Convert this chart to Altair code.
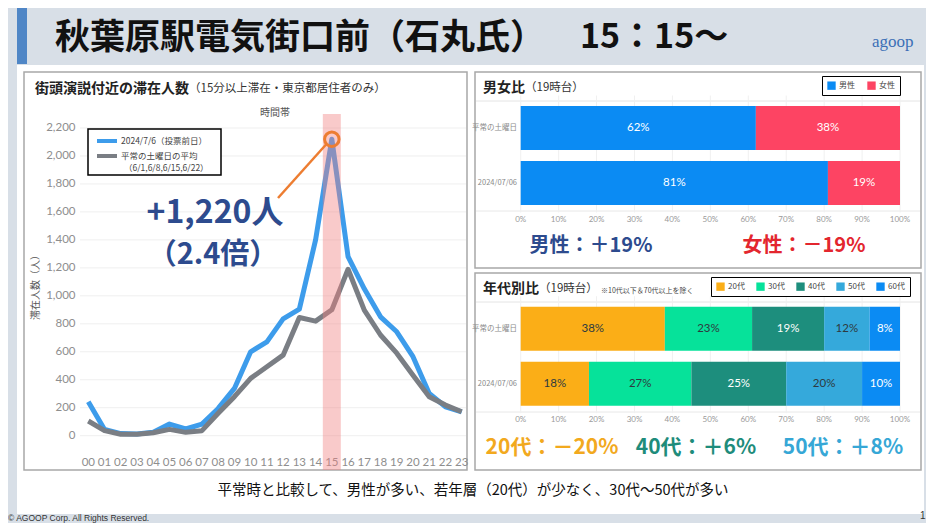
import altair as alt
import pandas as pd

# ---------------- data ----------------
hours = [f"{h:02d}" for h in range(24)]
stay_0706 = [243, 45, 15, 12, 25, 83, 48, 83, 195, 338, 600, 671, 835, 905, 1400, 2120,
             1280, 1050, 850, 743, 565, 302, 207, 171]
stay_avg = [105, 36, 10, 10, 21, 45, 24, 36, 160, 279, 410, 493, 576, 845, 819, 900,
            1190, 898, 720, 590, 433, 278, 219, 171]
series_names = ["2024/7/6（投票前日）", "平常の土曜日の平均"]
highlight_hour = "15"
y_ticks = list(range(0, 2201, 200))

bar_rows = ["平常の土曜日", "2024/07/06"]
gender_cats = ["男性", "女性"]
gender_usual = [62, 38]
gender_0706 = [81, 19]
age_cats = ["20代", "30代", "40代", "50代", "60代"]
age_usual = [38, 23, 19, 12, 8]
age_0706 = [18, 27, 25, 20, 10]
pct_ticks = [i / 10 for i in range(11)]

JP = "Noto Sans CJK JP"
NUM = "Lato"
W, H = 918, 515


def px(v):
    return v - 8


one = alt.InlineData(values=[{"k": 0}])


def txt(x, y, s, size, color="#222222", weight="normal", align="left", font=JP,
        angle=None, baseline="middle"):
    kw = dict(text=s, fontSize=size, color=color, fontWeight=weight, align=align,
              baseline=baseline, font=font)
    if angle is not None:
        kw["angle"] = angle
    return alt.Chart(one).mark_text(**kw).encode(x=alt.value(px(x)), y=alt.value(px(y)))


def box(x1, y1, x2, y2, fill="white", stroke=None, sw=1.0):
    kw = dict(fill=fill)
    if stroke:
        kw.update(stroke=stroke, strokeWidth=sw)
    return alt.Chart(one).mark_rect(**kw).encode(
        x=alt.value(px(x1)), x2=alt.value(px(x2)), y=alt.value(px(y1)), y2=alt.value(px(y2)))


def seg(x1, y1, x2, y2, color, sw):
    return alt.Chart(one).mark_rule(color=color, strokeWidth=sw).encode(
        x=alt.value(px(x1)), y=alt.value(px(y1)), x2=alt.value(px(x2)), y2=alt.value(px(y2)))


# ---------------- line chart ----------------
xs = alt.Scale(type="point", domain=hours, range=[px(88.3), px(461.7)], padding=0)
ys = alt.Scale(domain=[0, 2200], range=[px(435.7), px(128)], nice=False, zero=False)

df_blue = pd.DataFrame({"hour": hours, "value": stay_0706})
df_gray = pd.DataFrame({"hour": hours, "value": stay_avg})
df_grid = pd.DataFrame({"value": y_ticks})
df_hours = pd.DataFrame({"hour": hours})
df_hl = pd.DataFrame({"hour": [highlight_hour],
                      "value": [stay_0706[hours.index(highlight_hour)]]})

grid = alt.Chart(df_grid).mark_rule(color="#EFEFEF", strokeWidth=1).encode(
    y=alt.Y("value:Q", scale=ys, axis=None), x=alt.value(px(80)), x2=alt.value(px(466)))
y_labels = alt.Chart(df_grid).mark_text(align="right", baseline="middle", fontSize=11.5,
                                        font=NUM, color="#8E8E8E").encode(
    y=alt.Y("value:Q", scale=ys, axis=None), x=alt.value(px(75.5)),
    text=alt.Text("value:Q", format=",d"))
x_labels = alt.Chart(df_hours).mark_text(align="center", baseline="middle", fontSize=11.5,
                                         font=NUM, color="#8E8E8E").encode(
    x=alt.X("hour:N", scale=xs, axis=None), y=alt.value(px(462.5)), text="hour:N")
blue = alt.Chart(df_blue).mark_line(color="#3D9CEB", strokeWidth=5, strokeJoin="round").encode(
    x=alt.X("hour:N", scale=xs, axis=None, sort=hours),
    y=alt.Y("value:Q", scale=ys, axis=None))
gray = alt.Chart(df_gray).mark_line(color="#7A7E84", strokeWidth=5, strokeJoin="round").encode(
    x=alt.X("hour:N", scale=xs, axis=None, sort=hours),
    y=alt.Y("value:Q", scale=ys, axis=None))
band = alt.Chart(df_hl).mark_rule(color="#F08080", strokeWidth=18, opacity=0.42).encode(
    x=alt.X("hour:N", scale=xs, axis=None), y=alt.value(px(114)), y2=alt.value(px(470)))
circle = alt.Chart(df_hl).mark_point(shape="circle", filled=False, size=210, color="#ED7D31",
                                     strokeWidth=3, opacity=1).encode(
    x=alt.X("hour:N", scale=xs, axis=None), y=alt.Y("value:Q", scale=ys, axis=None))

line_group = alt.layer(grid, y_labels, x_labels, blue, gray, band, circle)

# ---------------- bar charts ----------------


def bar_frame(cats, rows_vals, dark_cats):
    recs = []
    for row, vals in zip(bar_rows, rows_vals):
        acc = 0
        for c, v in zip(cats, vals):
            recs.append({"row": row, "cat": c, "start": acc / 100, "end": (acc + v) / 100,
                         "mid": (acc + v / 2) / 100, "label": f"{v}%",
                         "dark": c in dark_cats})
            acc += v
    return pd.DataFrame(recs)


def bar_group(df, cats, colors, x_range, y_range, label_y, leg_x, leg_y, col_pad):
    bx = alt.Scale(domain=[0, 1], range=x_range, nice=False, zero=False)
    by = alt.Scale(domain=bar_rows, range=y_range, paddingInner=0.2, paddingOuter=0.1)
    vgrid = alt.Chart(pd.DataFrame({"start": pct_ticks})).mark_rule(
        color="#F0F0F0", strokeWidth=1).encode(
        x=alt.X("start:Q", scale=bx, axis=None),
        y=alt.value(y_range[0] - 5), y2=alt.value(y_range[1] + 2))
    xl = alt.Chart(pd.DataFrame({"start": pct_ticks})).mark_text(
        fontSize=8, font=NUM, color="#9A9A9A", baseline="middle").encode(
        x=alt.X("start:Q", scale=bx, axis=None), y=alt.value(px(label_y)),
        text=alt.Text("start:Q", format=".0%"))
    yl = alt.Chart(pd.DataFrame({"row": bar_rows})).mark_text(
        fontSize=7.5, font=JP, color="#8A8A8A", align="right", baseline="middle").encode(
        y=alt.Y("row:N", scale=by, axis=None), x=alt.value(px(517)), text="row:N")
    bars = alt.Chart(df).mark_bar().encode(
        x=alt.X("start:Q", scale=bx, axis=None),
        x2="end:Q",
        y=alt.Y("row:N", scale=by, axis=None, sort=bar_rows),
        color=alt.Color("cat:N", scale=alt.Scale(domain=cats, range=colors),
                        legend=alt.Legend(orient="none", legendX=px(leg_x), legendY=px(leg_y),
                                          direction="horizontal", title=None,
                                          strokeColor="black", fillColor="white", padding=5,
                                          symbolType="square", symbolSize=70,
                                          symbolStrokeWidth=0, labelFontSize=8,
                                          labelFont=JP, labelColor="#444444",
                                          columnPadding=col_pad, labelOffset=3)))
    t_white = alt.Chart(df).transform_filter("!datum.dark").mark_text(
        color="white", fontSize=11.5, font=NUM).encode(
        x=alt.X("mid:Q", scale=bx, axis=None), y=alt.Y("row:N", scale=by, axis=None),
        text="label:N")
    t_dark = alt.Chart(df).transform_filter("datum.dark").mark_text(
        color="#2E3A40", fontSize=11.5, font=NUM).encode(
        x=alt.X("mid:Q", scale=bx, axis=None), y=alt.Y("row:N", scale=by, axis=None),
        text="label:N")
    return alt.layer(vgrid, xl, yl, bars, t_white, t_dark)


df_gender = bar_frame(gender_cats, [gender_usual, gender_0706], [])
df_age = bar_frame(age_cats, [age_usual, age_0706], ["20代", "30代", "50代"])

gender_group = bar_group(df_gender, gender_cats, ["#0B8BF3", "#FD4463"],
                         [px(520.7), px(900)], [px(100.5), px(210.5)], 220, 822, 76, 12)
age_group = bar_group(df_age, age_cats, ["#FBAE17", "#06E29A", "#1D8E7D", "#35A9DB", "#0B8BF3"],
                      [px(520.7), px(900)], [px(301.2), px(411.2)], 420, 711, 277, 11)

# ---------------- decorations ----------------
bg = [
    box(17, 65, 924, 514, fill="white"),
    box(17, 8, 27, 64, fill="#4F86C6"),
    box(24, 72, 467, 470, fill="white", stroke="#A8A8A8", sw=1.5),
    box(475, 72, 921, 268, fill="white", stroke="#A8A8A8", sw=1.5),
    box(475, 273, 921, 470, fill="white", stroke="#A8A8A8", sw=1.5),
    seg(476, 101, 920, 101, "#E4E4E4", 1),
    seg(476, 211, 920, 211, "#E8E8E8", 1),
    seg(476, 302, 920, 302, "#E4E4E4", 1),
    seg(476, 412, 920, 412, "#E8E8E8", 1),
]

legend_line = [
    box(88, 129, 221, 175, fill="white", stroke="black", sw=1.5),
    seg(97, 141, 117, 141, "#3D9CEB", 4),
    seg(97, 156, 117, 156, "#7A7E84", 4),
    txt(121, 141, series_names[0], 8.5, color="#444444"),
    txt(121, 155.5, series_names[1], 8.5, color="#444444"),
    txt(124, 167.5, "（6/1,6/8,6/15,6/22）", 8.5, color="#444444"),
]

texts = [
    txt(55, 38, "秋葉原駅電気街口前（石丸氏）", 35, color="#111111", weight="bold"),
    txt(580, 38, "15：15～", 34, color="#111111", weight="bold"),
    txt(872, 42, "agoop", 17, color="#3C6FB6", font="Liberation Serif"),
    txt(35, 89, "街頭演説付近の滞在人数", 14, weight="bold"),
    txt(189, 89, "（15分以上滞在・東京都居住者のみ）", 11.5, color="#333333"),
    txt(275, 113, "時間帯", 10, color="#555555", align="center"),
    txt(36, 285, "滞在人数（人）", 10, color="#555555", align="center", angle=270),
    txt(215, 213, "+1,220人", 32, color="#2D4B8E", weight="bold", align="center"),
    txt(213, 255, "（2.4倍）", 29, color="#2D4B8E", weight="bold", align="center"),
    txt(483, 88, "男女比", 14, weight="bold"),
    txt(525, 88, "（19時台）", 11.5, color="#333333"),
    txt(483, 289, "年代別比", 14, weight="bold"),
    txt(539, 289, "（19時台）", 11.5, color="#333333"),
    txt(601, 291, "※10代以下＆70代以上を除く", 7, color="#444444"),
    txt(591, 246, "男性：＋19%", 20, color="#2D4B8E", weight="bold", align="center"),
    txt(804, 246, "女性：－19%", 20, color="#E3262E", weight="bold", align="center"),
    txt(552, 448, "20代：－20%", 21, color="#F2A91E", weight="bold", align="center"),
    txt(696, 448, "40代：＋6%", 21, color="#1E8C7B", weight="bold", align="center"),
    txt(843, 448, "50代：＋8%", 21, color="#36A7D6", weight="bold", align="center"),
    txt(473, 491, "平常時と比較して、男性が多い、若年層（20代）が少なく、30代～50代が多い", 14.5,
        color="#111111", align="center"),
    txt(8, 522.5, "© AGOOP Corp. All Rights Reserved.", 8.5, color="#333333",
        font="Liberation Sans", baseline="bottom"),
    txt(925.5, 516, "1", 10, color="#333333", font="Liberation Sans", align="right"),
    seg(326.5, 144, 278, 198, "#ED7D31", 2.5),
]

chart = alt.layer(*bg, line_group, gender_group, age_group, *legend_line, *texts).resolve_scale(
    x="independent", y="independent", color="independent"
).properties(
    width=W, height=H, padding=0, autosize=alt.AutoSizeParams(type="none"),
    background="#D8DFE7"
).configure_view(stroke=None)

chart.save("out.html", embed_options={"renderer": "svg", "actions": False})
